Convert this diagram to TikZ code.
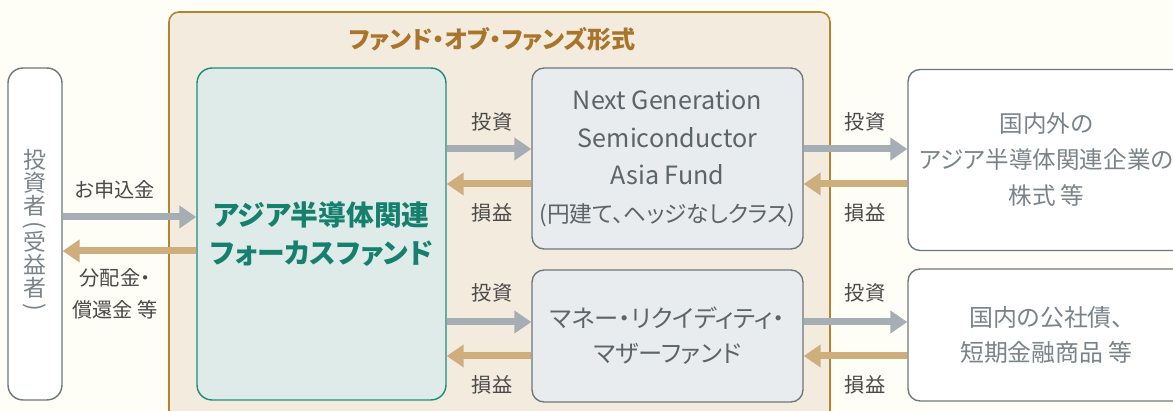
\documentclass[tikz,border=0pt]{standalone}
\usepackage{fontspec}
\setmainfont[RawFeature=+palt]{Noto Sans CJK JP}
\usepackage{graphicx}
\usetikzlibrary{arrows.meta}
\definecolor{bgcol}{HTML}{FEFDF6}
\definecolor{framefill}{HTML}{F4EBDF}
\definecolor{framecol}{HTML}{B5832F}
\definecolor{titlecol}{HTML}{A8752B}
\definecolor{boxline}{HTML}{6E777C}
\definecolor{greyfont}{HTML}{7A8388}
\definecolor{greenfill}{HTML}{DFEBE8}
\definecolor{greenline}{HTML}{1E8C7A}
\definecolor{greenfont}{HTML}{16806F}
\definecolor{midfill}{HTML}{E8ECEF}
\definecolor{midfont}{HTML}{5B6469}
\definecolor{labelfont}{HTML}{4A4A4A}
\definecolor{investcol}{HTML}{A4AEB4}
\definecolor{returncol}{HTML}{CFAE7E}
\tikzset{
  fundbox/.style={draw=boxline,line width=0.8pt,rounded corners=0.24cm,align=center,inner sep=0pt},
  investarrow/.style={draw=investcol,line width=0.14cm,-{Triangle[length=0.34cm,width=0.44cm]}},
  returnarrow/.style={draw=returncol,line width=0.14cm,-{Triangle[length=0.34cm,width=0.44cm]}},
  flowlabel/.style={text=labelfont,font=\fontsize{11.5}{18.2}\selectfont,align=center,inner sep=0pt}
}

\begin{document}
\begin{tikzpicture}[x=0.02cm,y=-0.02cm]
%
\useasboundingbox (0,0) rectangle (1173,411);
\clip (0,0) rectangle (1173,411);
\path[fill=bgcol] (0,0) rectangle (1173,411);
\path[draw=framecol,fill=framefill,line width=0.9pt,rounded corners=0.2cm] (169,12) rectangle (830,440);
\node [text=titlecol,font=\fontsize{13.7}{15}\selectfont\bfseries] (title) at (492,39) {ファンド・オブ・ファンズ形式};
%
\node [fundbox,fill=white,rounded corners=0.3cm,minimum width=1.08cm,minimum height=6.64cm] (investor) at (35,234) {};
\node [text=greyfont,font=\fontsize{13}{13.1}\selectfont,align=center,inner sep=0pt] (investortext) at (35,232)
  {投\\資\\者\\[-3pt]\rotatebox[origin=c]{-90}{(}\\[-3pt]受\\益\\者\\[-3pt]\rotatebox[origin=c]{-90}{)}};
\node [fundbox,draw=greenline,fill=greenfill,rounded corners=0.3cm,minimum width=4.98cm,minimum height=6.64cm,
  text=greenfont,font=\fontsize{15.8}{21.6}\selectfont\bfseries] (green) at (321.5,234) {アジア半導体関連\\フォーカスファンド};
\node [fundbox,fill=midfill,minimum width=5.42cm,minimum height=3.62cm,text=midfont,font=\fontsize{14.3}{21.3}\selectfont]
  (ngsa) at (667.5,158.5) {Next Generation\\Semiconductor\\Asia Fund\\{\fontsize{12.9}{21.3}\selectfont(円建て、ヘッジなしクラス)}};
\node [fundbox,fill=midfill,minimum width=5.42cm,minimum height=2.64cm,text=midfont,font=\fontsize{13.8}{19.9}\selectfont]
  (mrf) at (667.5,336) {マネー・リクイディティ・\\マザーファンド};
\node [fundbox,fill=white,minimum width=5.54cm,minimum height=3.62cm,text=greyfont,font=\fontsize{13.4}{20.5}\selectfont]
  (stocks) at (1046.5,160) {国内外の\\アジア半導体関連企業の\\株式 等};
\node [fundbox,fill=white,minimum width=5.54cm,minimum height=2.64cm,text=greyfont,font=\fontsize{13.6}{19.9}\selectfont]
  (bonds) at (1046.5,335) {国内の公社債、\\短期金融商品 等};
%
\draw [investarrow] (investor.east |- 0,217) -- (green.west |- 0,217);
\draw [returnarrow] (green.west |- 0,251) -- (investor.east |- 0,251);
\draw [investarrow] (green.east |- 0,149) -- (ngsa.west |- 0,149);
\draw [returnarrow] (ngsa.west |- 0,184) -- (green.east |- 0,184);
\draw [investarrow] (green.east |- 0,322) -- (mrf.west |- 0,322);
\draw [returnarrow] (mrf.west |- 0,356) -- (green.east |- 0,356);
\draw [investarrow] (ngsa.east |- 0,149) -- (stocks.west |- 0,149);
\draw [returnarrow] (stocks.west |- 0,184) -- (ngsa.east |- 0,184);
\draw [investarrow] (mrf.east |- 0,322) -- (bonds.west |- 0,322);
\draw [returnarrow] (bonds.west |- 0,356) -- (mrf.east |- 0,356);
%
\node [flowlabel] (subscribe) at (115,190) {お申込金};
\node [flowlabel] (payout) at (115,294) {分配金・\\償還金 等};
\node [flowlabel] (invA) at (492,122) {投資};
\node [flowlabel] (retA) at (492,213) {損益};
\node [flowlabel] (invB) at (492,293) {投資};
\node [flowlabel] (retB) at (492,385) {損益};
\node [flowlabel] (invC) at (865,122) {投資};
\node [flowlabel] (retC) at (865,213) {損益};
\node [flowlabel] (invD) at (865,293) {投資};
\node [flowlabel] (retD) at (865,385) {損益};
\end{tikzpicture}
\end{document}
